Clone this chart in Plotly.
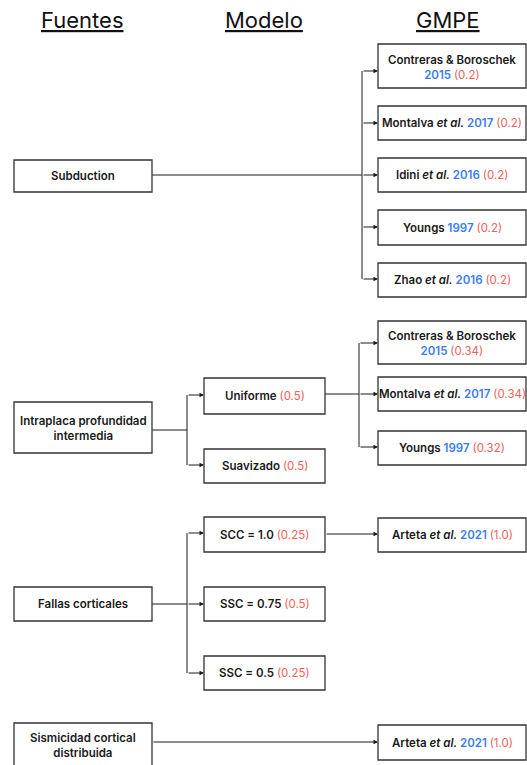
import plotly.graph_objects as go

# Árbol lógico: fuentes -> modelo -> GMPE
encabezados = ["Fuentes", "Modelo", "GMPE"]

fuentes = ["Subduction", "Intraplaca profundidad<br>intermedia",
           "Fallas corticales", "Sismicidad cortical<br>distribuida"]

modelos = ["Uniforme", "Suavizado", "SCC = 1.0", "SSC = 0.75", "SSC = 0.5"]
modelo_pesos = [0.5, 0.5, 0.25, 0.5, 0.25]

gmpe_autores = ["Contreras & Boroschek", "Montalva <i>et al.</i>", "Idini <i>et al.</i>",
                "Youngs", "Zhao <i>et al.</i>",
                "Contreras & Boroschek", "Montalva <i>et al.</i>", "Youngs",
                "Arteta <i>et al.</i>", "Arteta <i>et al.</i>"]
gmpe_anios = [2015, 2017, 2016, 1997, 2016, 2015, 2017, 1997, 2021, 2021]
gmpe_pesos = [0.2, 0.2, 0.2, 0.2, 0.2, 0.34, 0.34, 0.32, 1.0, 1.0]
gmpe_dos_lineas = [True, False, False, False, False, True, False, False, False, False]

# layout (pixels, y grows downward)
W, H = 527, 765
header_x = [82, 264, 448]
src_x = (14, 152)
src_y = [(160, 192), (402, 453), (587, 621), (723, 768)]
src_text_y = [176, 428, 604, 745]
mod_x = (204, 325)
mod_y = [(378, 414), (449, 483), (517, 552), (587, 621), (656, 690)]
gm_x = (378, 526)
gm_y = [(44, 88), (106, 140), (158, 192), (210, 245), (263, 297),
        (321, 364), (377, 411), (431, 465), (518, 552), (725, 760)]

BLUE = "#3b7cf4"
RED = "#f2615a"
INK = "#1a1a1a"
FONT = "Inter"
FS = 11.5

fig = go.Figure()
shapes = []
annotations = []


def box(x, y):
    shapes.append(dict(type="rect", x0=x[0], x1=x[1], y0=y[0], y1=y[1],
                       line=dict(color="#333333", width=1.3), fillcolor="white",
                       layer="above"))


def label(xc, yc, txt, size=FS):
    annotations.append(dict(x=xc, y=yc, text=txt, showarrow=False,
                            xanchor="center", yanchor="middle",
                            font=dict(family=FONT, size=size, color=INK, weight=600)))


def line(x0, y0, x1, y1):
    shapes.append(dict(type="line", x0=x0, y0=y0, x1=x1, y1=y1,
                       line=dict(color=INK, width=1), layer="below"))


def arrow(x0, y, x1):
    annotations.append(dict(x=x1, y=y, ax=x0, ay=y, axref="x", ayref="y",
                            xref="x", yref="y", text="", showarrow=True,
                            arrowhead=2, arrowsize=0.9, arrowwidth=1,
                            arrowcolor=INK, standoff=0))


def peso(w):
    return f"<span style='color:{RED};font-weight:400'>({w})</span>"


def anio(a):
    return f"<span style='color:{BLUE}'>{a}</span>"


# encabezados
for t, x in zip(encabezados, header_x):
    annotations.append(dict(x=x, y=20, text=f"<u>{t}</u>", showarrow=False,
                            xanchor="center", yanchor="middle",
                            font=dict(family=FONT, size=22, color="#111111", weight=400)))

# cajas de fuentes
for t, y, ty in zip(fuentes, src_y, src_text_y):
    box(src_x, y)
    label(sum(src_x) / 2, ty, t)

# cajas de modelos
for t, w, y in zip(modelos, modelo_pesos, mod_y):
    box(mod_x, y)
    label(sum(mod_x) / 2, sum(y) / 2, f"{t} {peso(w)}")

# cajas GMPE
for a, yr, w, two, y in zip(gmpe_autores, gmpe_anios, gmpe_pesos, gmpe_dos_lineas, gm_y):
    box(gm_x, y)
    sep = "<br>" if two else " "
    label(sum(gm_x) / 2, sum(y) / 2 + (1 if two else 0), f"{a}{sep}{anio(yr)} {peso(w)}")

# conexiones: Subducción -> GMPE
sub_arr = [71, 123, 175, 227, 279]
line(src_x[1], 175, 362, 175)
line(362, sub_arr[0], 362, sub_arr[-1])
for y in sub_arr:
    arrow(362, y, gm_x[0])

# Intraplaca -> modelos
line(src_x[1], 430, 187, 430)
line(187, 395, 187, 465)
for y in [395, 465]:
    arrow(187, y, mod_x[0])
# Uniforme -> GMPE
int_arr = [343, 394, 447]
line(mod_x[1], 394, 359, 394)
line(359, int_arr[0], 359, int_arr[-1])
for y in int_arr:
    arrow(359, y, gm_x[0])

# Fallas corticales -> modelos
line(src_x[1], 604, 187, 604)
line(187, 533, 187, 673)
for y in [533, 604, 673]:
    arrow(187, y, mod_x[0])
arrow(mod_x[1], 534, gm_x[0])

# Sismicidad cortical distribuida -> GMPE
arrow(src_x[1], 742, gm_x[0])

fig.update_layout(
    width=W, height=H,
    margin=dict(l=0, r=0, t=0, b=0),
    paper_bgcolor="white", plot_bgcolor="white",
    xaxis=dict(range=[0, W], visible=False, fixedrange=True),
    yaxis=dict(range=[H, 0], visible=False, fixedrange=True),
    shapes=shapes, annotations=annotations, showlegend=False,
)

fig.write_html("out.html", config={"displayModeBar": False},
               post_script="document.body.style.margin='0';document.body.style.overflow='hidden';")
